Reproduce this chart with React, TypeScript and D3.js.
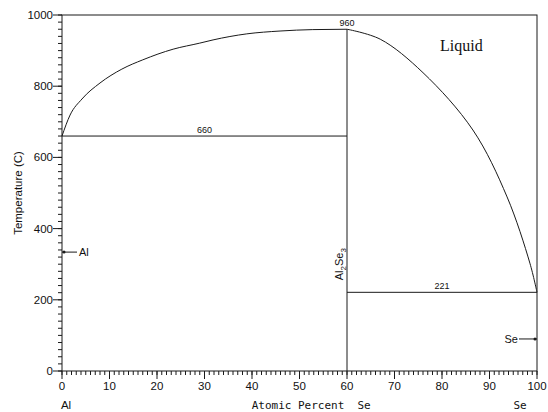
import React from "react";
import * as d3 from "d3";

// Al–Se phase diagram data
const xTicks = [0, 10, 20, 30, 40, 50, 60, 70, 80, 90, 100];
const yTicks = [0, 200, 400, 600, 800, 1000];

// Liquidus, Al side (atomic % Se, °C)
const liquidusLeft: [number, number][] = [
  [0, 660], [1.7, 719], [4.2, 764], [8, 809], [12.6, 848], [17, 874],
  [23.4, 904], [29, 921], [31.8, 930], [38.9, 947], [45.9, 955], [52.8, 959], [60, 960],
];
// Liquidus, Se side
const liquidusRight: [number, number][] = [
  [60, 960], [67, 932], [76, 838], [86.5, 677], [93.7, 489], [98.5, 303], [100, 221],
];

// Invariant horizontals: [x0, x1, temperature]
const eutectics: [number, number, number][] = [
  [0, 60, 660],
  [60, 100, 221],
];
const compoundX = 60;
const compoundMelt = 960;
const alMarkerT = 334;
const seMarkerT = 90;

const W = 548;
const H = 412;
const left = 62;
const right = 537;
const top = 15;
const bottom = 371;

export default function App() {
  const x = d3.scaleLinear().domain([0, 100]).range([left, right]);
  const y = d3.scaleLinear().domain([0, 1000]).range([bottom, top]);
  const lineLeft = d3
    .line<[number, number]>()
    .x((d) => x(d[0]))
    .y((d) => y(d[1]))
    .curve(d3.curveMonotoneX);
  const lineRight = d3
    .line<[number, number]>()
    .x((d) => x(d[0]))
    .y((d) => y(d[1]))
    .curve(d3.curveCatmullRom.alpha(0.5));
  const stroke = "#1a1a1a";
  const sans = "'Liberation Sans', Arial, sans-serif";
  const mono = "'DejaVu Sans Mono', monospace";

  const xMinor = d3.range(0, 101, 1);
  const yMinor = d3.range(0, 1001, 20);

  return (
    <svg width={W} height={H} style={{ position: "absolute", left: 0, top: 0, background: "#fff" }}>
      <rect x={0} y={0} width={W} height={H} fill="#fff" />
      {/* frame */}
      <rect x={left} y={top} width={right - left} height={bottom - top} fill="none" stroke={stroke} strokeWidth={1} />

      {/* y ticks */}
      {yMinor.map((v) => (
        <line key={"ym" + v} x1={left - 4} x2={left} y1={y(v)} y2={y(v)} stroke={stroke} strokeWidth={1} />
      ))}
      {yTicks.map((v) => (
        <g key={"y" + v}>
          <line x1={left - 9} x2={left} y1={y(v)} y2={y(v)} stroke={stroke} strokeWidth={1} />
          <text x={left - 9} y={y(v) + 4} textAnchor="end" fontFamily={sans} fontSize={11.5} fill="#111">
            {v}
          </text>
        </g>
      ))}

      {/* x ticks */}
      {xMinor.map((v) => (
        <line key={"xm" + v} x1={x(v)} x2={x(v)} y1={bottom} y2={bottom + 4} stroke={stroke} strokeWidth={1} />
      ))}
      {xTicks.map((v) => (
        <g key={"x" + v}>
          <line x1={x(v)} x2={x(v)} y1={bottom} y2={bottom + 8} stroke={stroke} strokeWidth={1} />
          <text x={x(v)} y={bottom + 19} textAnchor="middle" fontFamily={sans} fontSize={11.5} fill="#111">
            {v}
          </text>
        </g>
      ))}

      {/* axis titles */}
      <text
        transform={`translate(22,${(top + bottom) / 2}) rotate(-90)`}
        textAnchor="middle"
        fontFamily={sans}
        fontSize={11.5}
        fill="#111"
      >
        Temperature (C)
      </text>
      <text x={x(0) + 4} y={409} textAnchor="middle" fontFamily={sans} fontSize={11.5} fill="#111">Al</text>
      <text x={298} y={409} textAnchor="middle" fontFamily={mono} fontSize={11} fill="#111">Atomic Percent</text>
      <text x={364} y={409} textAnchor="middle" fontFamily={mono} fontSize={11} fill="#111">Se</text>
      <text x={520} y={409} textAnchor="middle" fontFamily={mono} fontSize={11} fill="#111">Se</text>

      {/* liquidus */}
      <path d={lineLeft(liquidusLeft) || ""} fill="none" stroke={stroke} strokeWidth={1} />
      <path d={lineRight(liquidusRight) || ""} fill="none" stroke={stroke} strokeWidth={1} />

      {/* compound line */}
      <line x1={x(compoundX)} x2={x(compoundX)} y1={y(0)} y2={y(compoundMelt)} stroke={stroke} strokeWidth={1} />
      <text x={x(compoundX)} y={y(compoundMelt) - 3} textAnchor="middle" fontFamily={sans} fontSize={9} fill="#111">
        {compoundMelt}
      </text>
      <text
        transform={`translate(${x(compoundX) - 4},${y(300)}) rotate(-90)`}
        textAnchor="middle"
        fontFamily={sans}
        fontSize={11}
        fill="#111"
      >
        Al
        <tspan dy={3} fontSize={8}>2</tspan>
        <tspan dy={-3}>Se</tspan>
        <tspan dy={3} fontSize={8}>3</tspan>
      </text>

      {/* invariant lines */}
      {eutectics.map(([a, b, t]) => (
        <g key={"e" + t}>
          <line x1={x(a)} x2={x(b)} y1={y(t)} y2={y(t)} stroke={stroke} strokeWidth={1} />
          <text x={x((a + b) / 2)} y={y(t) - 3} textAnchor="middle" fontFamily={sans} fontSize={9} fill="#111">
            {t}
          </text>
        </g>
      ))}

      {/* pure element melting markers */}
      <line x1={x(0)} x2={x(0) + 15} y1={y(alMarkerT)} y2={y(alMarkerT)} stroke={stroke} strokeWidth={1} />
      <circle cx={x(0) + 2} cy={y(alMarkerT)} r={1.5} fill={stroke} />
      <text x={x(0) + 17} y={y(alMarkerT) + 4} fontFamily={sans} fontSize={11} fill="#111">Al</text>

      <line x1={x(100) - 18} x2={x(100)} y1={y(seMarkerT)} y2={y(seMarkerT)} stroke={stroke} strokeWidth={1} />
      <circle cx={x(100) - 2} cy={y(seMarkerT)} r={1.5} fill={stroke} />
      <text x={x(100) - 19} y={y(seMarkerT) + 4} textAnchor="end" fontFamily={sans} fontSize={11} fill="#111">Se</text>

      {/* phase field label */}
      <text x={440} y={51} fontFamily="'Liberation Serif', 'Times New Roman', serif" fontSize={16} fill="#111">
        Liquid
      </text>
    </svg>
  );
}
